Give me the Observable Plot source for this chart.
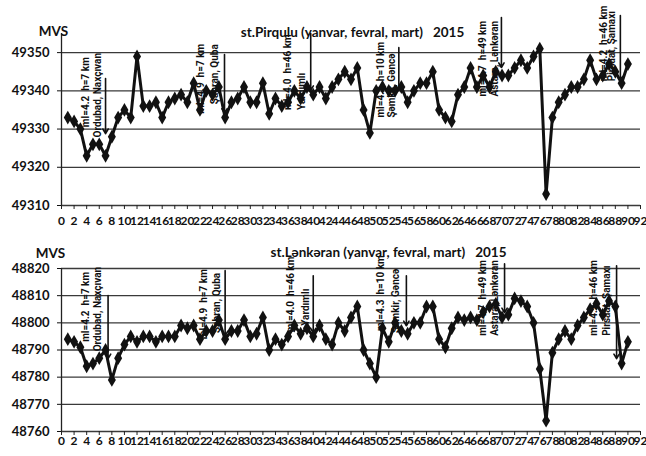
<!DOCTYPE html>
<html><head><meta charset="utf-8">
<script src="https://cdn.jsdelivr.net/npm/d3@7"></script>
<script src="https://cdn.jsdelivr.net/npm/@observablehq/plot@0.6"></script>
<style>
body{margin:0;background:#fff;}
#wrap{width:646px;height:456px;position:relative;overflow:hidden;background:#fff;}
#wrap svg{display:block;overflow:visible;}
#wrap svg text{white-space:pre;}
</style></head><body><div id="wrap"></div>
<script>
// ---- data ----
const days = d3.range(1, 91);
const pirquluValues = [
 49333,49332,49330,49323,49326,49326,49323,49328,49333,49335,
 49333,49349,49336,49336,49337,49333,49337,49338,49339,49337,
 49342,49335,49340,49339,49341,49333,49337,49338,49341,49337,
 49337,49342,49334,49338,49336,49337,49340,49338,49341,49339,
 49341,49338,49341,49343,49345,49343,49346,49335,49329,49340,
 49341,49340,49340,49341,49337,49340,49342,49342,49345,49335,
 49333,49332,49339,49341,49346,49341,49344,49341,49345,49344,
 49344,49346,49348,49346,49349,49351,49313,49333,49337,49339,
 49341,49341,49343,49348,49343,49344,49347,49345,49342,49347];
const lenkeranValues = [
 48794,48793,48791,48784,48785,48787,48790,48779,48787,48792,
 48795,48793,48795,48795,48793,48795,48795,48795,48799,48798,
 48799,48794,48797,48797,48801,48794,48797,48797,48801,48795,
 48796,48802,48790,48794,48792,48795,48799,48796,48798,48795,
 48799,48794,48792,48800,48797,48802,48806,48790,48785,48780,
 48798,48793,48800,48797,48796,48800,48800,48806,48806,48794,
 48791,48798,48802,48801,48802,48801,48804,48806,48807,48802,
 48803,48809,48808,48806,48800,48783,48764,48789,48794,48797,
 48794,48799,48802,48805,48807,48803,48808,48806,48785,48793];
const xTicks = d3.range(0, 93, 2);
const pirquluTicks = [49310, 49320, 49330, 49340, 49350];
const lenkeranTicks = [48760, 48770, 48780, 48790, 48800, 48810, 48820];
const quakeParams = ["ml=4.2  h=7 km", "ml=4.9  h=7 km", "ml=4.0  h=46 km", "ml=4.3  h=10 km", "ml=4.7  h=49 km", "ml=4.2  h=46 km"];
const quakePlaces = ["Ordubad, Naxçıvan", "Şabran, Quba", "Yardımlı", "Şəmkir, Gəncə", "Astara, Lənkəran", "Pirsaat, Şamaxı"];
// annotation anchors (day units / field values)
const pirquluArrowX = [7, 25.9, 39.6, 53.6, 69.9, 88.8];
const pirquluArrowTop = [49343.2, 49349.5, 49355, 49351.3, 49359.2, 49359.7];
const pirquluArrowEnd = [49328.8, 49334.1, 49340.1, 49340.1, 49346.1, 49342.6];
const pirquluParamX = [3.8, 22.1, 35.9, 50.7, 66.9, 86.2];
const pirquluParamY = [49330.5, 49334.0, 49335.0, 49333.0, 49338.5, 49342.5];
const pirquluPlaceX = [5.7, 24.3, 38.2, 52.5, 68.8, 87.5];
const pirquluPlaceY = [49327.8, 49336.5, 49335.0, 49333.0, 49338.5, 49342.5];
const lenkeranArrowX = [7.4, 26, 40, 54.8, 70.4, 88.2];
const lenkeranArrowTop = [48810, 48819.2, 48817.3, 48817.3, 48821.7, 48821];
const lenkeranArrowEnd = [48786.8, 48795.2, 48796.3, 48798.9, 48803.7, 48786.8];
const lenkeranParamX = [3.8, 22.6, 36.4, 50.7, 66.9, 84.6];
const lenkeranParamY = [48793.0, 48794.0, 48796.5, 48797.0, 48795.2, 48795.2];
const lenkeranPlaceX = [5.7, 24.7, 38.8, 53.1, 68.8, 86.7];
const lenkeranPlaceY = [48789.5, 48796.3, 48798.9, 48796.3, 48795.2, 48795.2];

const FONT = "Lato, 'Open Sans', sans-serif";
const NARROW = "'Liberation Sans Narrow', Roboto, sans-serif";

function panel(cfg) {
  const series = days.map((d, i) => ({day: d, v: cfg.values[i]}));
  const arrows = cfg.arrowX.map((x, i) => ({x, y1: cfg.arrowTop[i], y2: cfg.arrowEnd[i]}));
  const params = quakeParams.map((t, i) => ({t, x: cfg.paramX[i], y: cfg.paramY[i]}));
  const places = quakePlaces.map((t, i) => ({t, x: cfg.placeX[i], y: cfg.placeY[i]}));
  return Plot.plot({
    width: 646, height: 228,
    marginLeft: 61, marginRight: 6, marginTop: cfg.mt, marginBottom: cfg.mb,
    x: {domain: [0, 92]},
    y: {domain: cfg.domain},
    style: {fontFamily: FONT, background: "transparent", color: "#111"},
    marks: [
      Plot.ruleY(cfg.ticks, {stroke: "#3a3a3a", strokeWidth: 1.3}),
      Plot.ruleX([0], {stroke: "#222", strokeWidth: 1.3}),
      Plot.axisX({ticks: xTicks, tickSize: 4, tickPadding: cfg.xpad, tickFormat: d => String(d),
        fontSize: 12, fontWeight: "bold", label: null, stroke: "#222"}),
      Plot.axisY({ticks: cfg.ticks, tickSize: 4, tickPadding: 8, tickFormat: d => String(d),
        fontSize: 13, fontWeight: "bold", label: null}),
      Plot.line(series, {x: "day", y: "v", stroke: "#111", strokeWidth: 3, curve: "linear"}),
      Plot.dot(series, {x: "day", y: "v", symbol: "diamond", fill: "#111", r: 4.2}),
      Plot.arrow(arrows, {x1: "x", x2: "x", y1: "y1", y2: "y2", stroke: "#111", strokeWidth: 1.6, headLength: 5}),
      Plot.text(params, {x: "x", y: "y", text: "t", rotate: -90, textAnchor: "start", fontSize: 10,
        fontWeight: "bold", fontFamily: NARROW, fill: "#111"}),
      Plot.text(places, {x: "x", y: "y", text: "t", rotate: -90, textAnchor: "start", fontSize: 10,
        fontWeight: "bold", fontFamily: NARROW, fill: "#111"}),
      Plot.text(["MVS"], {frameAnchor: "top-left", lineAnchor: "middle", textAnchor: "middle",
        dx: cfg.mvsDx, dy: cfg.mvsDy, fontSize: 13.5, fontWeight: "bold"}),
      Plot.text([cfg.title], {frameAnchor: "top-left", lineAnchor: "middle", textAnchor: "middle",
        dx: cfg.titleDx, dy: cfg.titleDy, fontSize: 13.5, fontWeight: "bold"})
    ]
  });
}

const wrap = document.getElementById("wrap");
wrap.appendChild(panel({
  values: pirquluValues, ticks: pirquluTicks, domain: [49310, 49355],
  mt: 33, mb: 23, xpad: 7,
  arrowX: pirquluArrowX, arrowTop: pirquluArrowTop, arrowEnd: pirquluArrowEnd,
  paramX: pirquluParamX, paramY: pirquluParamY, placeX: pirquluPlaceX, placeY: pirquluPlaceY,
  mvsDx: -8, mvsDy: -2, title: "st.Pirqulu (yanvar, fevral, mart)\u00a0\u00a0\u00a02015", titleDx: 291, titleDy: -1
}));
wrap.appendChild(panel({
  values: lenkeranValues, ticks: lenkeranTicks, domain: [48760, 48820],
  mt: 40, mb: 25, xpad: 1,
  arrowX: lenkeranArrowX, arrowTop: lenkeranArrowTop, arrowEnd: lenkeranArrowEnd,
  paramX: lenkeranParamX, paramY: lenkeranParamY, placeX: lenkeranPlaceX, placeY: lenkeranPlaceY,
  mvsDx: -11, mvsDy: -15, title: "st.Lənkəran (yanvar, fevral, mart)\u00a0\u00a0\u00a02015", titleDx: 327, titleDy: -16
}));
</script></body></html>
